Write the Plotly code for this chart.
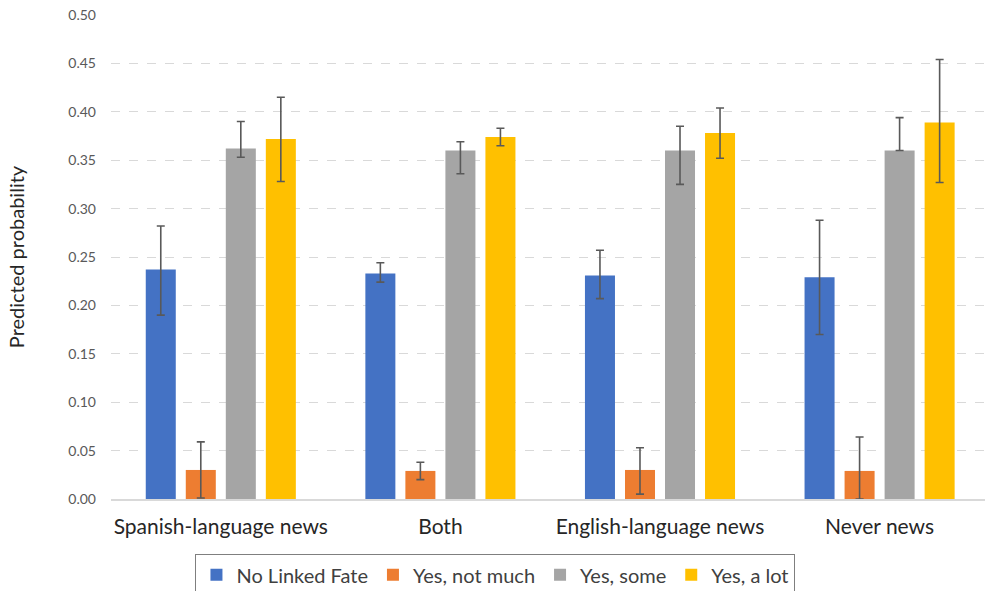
import plotly.graph_objects as go

# Predicted probability of linked fate by news-language consumption
categories = ["Spanish-language news", "Both", "English-language news", "Never news"]

series_names = ["No Linked Fate", "Yes, not much", "Yes, some", "Yes, a lot"]
series_colors = ["#4472C4", "#ED7D31", "#A5A5A5", "#FFC000"]

no_linked_fate = [0.237, 0.233, 0.231, 0.229]
yes_not_much = [0.030, 0.029, 0.030, 0.029]
yes_some = [0.362, 0.360, 0.360, 0.360]
yes_a_lot = [0.372, 0.374, 0.378, 0.389]

# Confidence interval bounds (upper, lower)
no_linked_fate_hi = [0.282, 0.244, 0.257, 0.288]
no_linked_fate_lo = [0.190, 0.224, 0.207, 0.170]
yes_not_much_hi = [0.059, 0.038, 0.053, 0.064]
yes_not_much_lo = [0.001, 0.020, 0.005, 0.000]
yes_some_hi = [0.390, 0.369, 0.385, 0.394]
yes_some_lo = [0.353, 0.336, 0.325, 0.360]
yes_a_lot_hi = [0.415, 0.383, 0.404, 0.454]
yes_a_lot_lo = [0.328, 0.365, 0.352, 0.327]

y_ticks = [0.00, 0.05, 0.10, 0.15, 0.20, 0.25, 0.30, 0.35, 0.40, 0.45, 0.50]

values = [no_linked_fate, yes_not_much, yes_some, yes_a_lot]
his = [no_linked_fate_hi, yes_not_much_hi, yes_some_hi, yes_a_lot_hi]
los = [no_linked_fate_lo, yes_not_much_lo, yes_some_lo, yes_a_lot_lo]

FONT = "Lato, 'Open Sans', sans-serif"

fig = go.Figure()
for name, color, vals, hi, lo in zip(series_names, series_colors, values, his, los):
    fig.add_trace(go.Bar(
        name=name,
        x=categories,
        y=vals,
        marker=dict(color=color, line=dict(width=0)),
        error_y=dict(
            type="data",
            symmetric=False,
            array=[h - v for h, v in zip(hi, vals)],
            arrayminus=[v - l for v, l in zip(vals, lo)],
            color="#595959",
            thickness=1.6,
            width=4,
        ),
    ))

fig.update_layout(
    width=985,
    height=591,
    margin=dict(l=111, r=0, t=15, b=92),
    paper_bgcolor="white",
    plot_bgcolor="white",
    barmode="group",
    bargap=0.271,
    bargroupgap=0.25,
    font=dict(family=FONT, color="#404040"),
    showlegend=True,
    legend=dict(
        orientation="h",
        xref="container",
        yref="container",
        x=0.503,
        xanchor="center",
        y=0.062,
        yanchor="top",
        bordercolor="#7f7f7f",
        borderwidth=1,
        font=dict(family=FONT, size=20, color="#404040"),
        traceorder="normal",
    ),
)

fig.update_xaxes(
    range=[-0.5, 3.48],
    showgrid=False,
    showline=True,
    linecolor="#d9d9d9",
    linewidth=1.5,
    ticks="",
    ticklabelstandoff=8,
    tickfont=dict(family=FONT, size=21, color="#262626"),
)

fig.update_yaxes(
    range=[0, 0.5],
    tickvals=y_ticks,
    tickformat=".2f",
    showgrid=True,
    gridcolor="#d9d9d9",
    griddash="dash",
    gridwidth=1.3,
    zeroline=False,
    showline=False,
    ticks="",
    ticklabelstandoff=14,
    tickfont=dict(family=FONT, size=14, color="#595959"),
    title=dict(text="Predicted probability", font=dict(family=FONT, size=20, color="#262626"), standoff=38),
)

fig.write_html("out.html")
